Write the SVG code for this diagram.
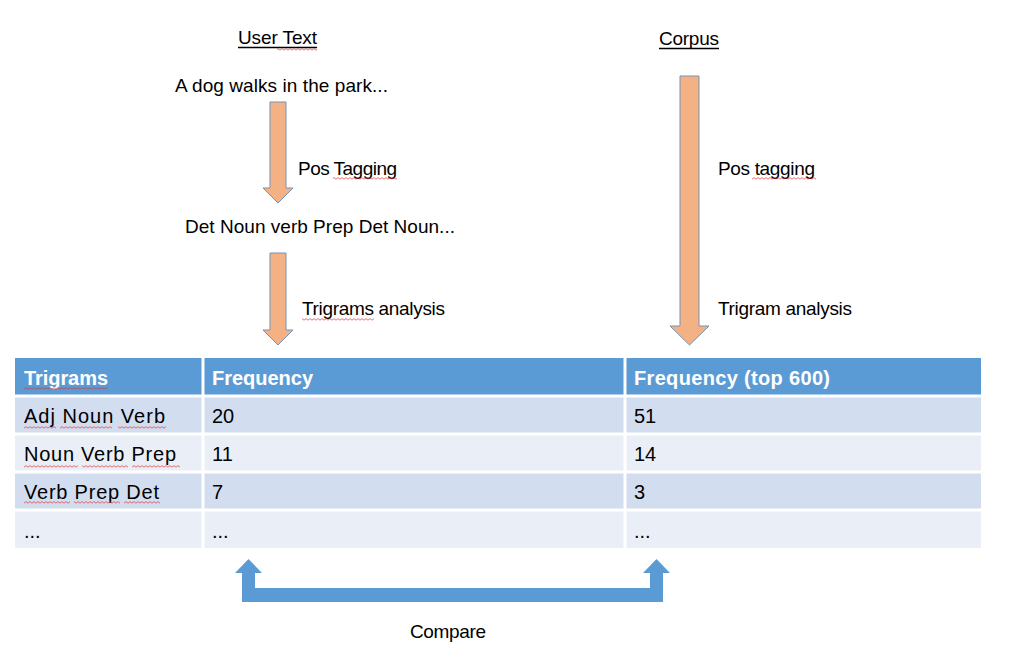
<svg xmlns="http://www.w3.org/2000/svg" width="1024" height="645" viewBox="0 0 1024 645">
<style>
text{font-family:"Liberation Sans",Arial,sans-serif;fill:#000;}
.t19{font-size:19px;}
.t20{font-size:20px;}
.hd{font-size:20px;font-weight:bold;fill:#fff;}
.orange{fill:#F4B183;stroke:#7393BA;stroke-width:1;}
.blue{fill:#5B9BD5;}
.ul{stroke:#000;stroke-width:1.3;}
.sq{fill:url(#squig);}
.grid{stroke:#fff;stroke-width:3;}
</style>
<defs>
<pattern id="squig" width="4" height="3" patternUnits="userSpaceOnUse">
<path d="M0 2.2 L2 0.6 L4 2.2" fill="none" stroke="#E0302F" stroke-width="0.7"/>
</pattern>
</defs>
<rect width="1024" height="645" fill="#fff"/>

<g id="user-text-title">
<text class="t19" x="238" y="44" textLength="79">User Text</text>
<line class="ul" x1="238" y1="47.5" x2="317" y2="47.5"/>
<rect class="sq" x="277" y="48" width="40" height="3"/>
</g>
<g id="sentence">
<text class="t19" x="175" y="92" textLength="213">A dog walks in the park...</text>
</g>
<g id="tags">
<text class="t19" x="185" y="233" textLength="270">Det Noun verb Prep Det Noun...</text>
</g>
<g id="corpus-title">
<text class="t19" x="659" y="45" textLength="60">Corpus</text>
<line class="ul" x1="659" y1="48.5" x2="719" y2="48.5"/>
</g>

<g id="table">
<rect x="15" y="358" width="966" height="38" fill="#5B9BD5"/>
<rect x="15" y="396" width="966" height="38" fill="#D2DEEF"/>
<rect x="15" y="434" width="966" height="38" fill="#EAEFF7"/>
<rect x="15" y="472" width="966" height="38" fill="#D2DEEF"/>
<rect x="15" y="510" width="966" height="38" fill="#EAEFF7"/>
<line class="grid" x1="15" y1="396" x2="981" y2="396"/>
<line class="grid" x1="15" y1="434" x2="981" y2="434"/>
<line class="grid" x1="15" y1="472" x2="981" y2="472"/>
<line class="grid" x1="15" y1="510" x2="981" y2="510"/>
<line class="grid" x1="203" y1="358" x2="203" y2="548"/>
<line class="grid" x1="625" y1="358" x2="625" y2="548"/>
<text class="hd" x="24" y="385" textLength="84">Trigrams</text>
<text class="hd" x="212" y="385" textLength="101">Frequency</text>
<text class="hd" x="634" y="385" textLength="196">Frequency (top 600)</text>
<rect class="sq" x="24" y="387" width="84" height="3"/>
<text class="t20" x="24" y="423" textLength="141">Adj Noun Verb</text>
<text class="t20" x="212" y="423">20</text>
<text class="t20" x="634" y="423">51</text>
<rect class="sq" x="24" y="426" width="32" height="3"/>
<rect class="sq" x="60" y="426" width="52" height="3"/>
<rect class="sq" x="118" y="426" width="48" height="3"/>
<text class="t20" x="24" y="461" textLength="152">Noun Verb Prep</text>
<text class="t20" x="212" y="461">11</text>
<text class="t20" x="634" y="461">14</text>
<rect class="sq" x="24" y="465" width="54" height="3"/>
<rect class="sq" x="82" y="465" width="46" height="3"/>
<rect class="sq" x="132" y="465" width="48" height="3"/>
<text class="t20" x="24" y="499" textLength="135">Verb Prep Det</text>
<text class="t20" x="212" y="499">7</text>
<text class="t20" x="634" y="499">3</text>
<rect class="sq" x="24" y="501" width="46" height="3"/>
<rect class="sq" x="74" y="501" width="46" height="3"/>
<rect class="sq" x="124" y="501" width="36" height="3"/>
<text class="t20" x="24" y="538">...</text>
<text class="t20" x="212" y="538">...</text>
<text class="t20" x="634" y="538">...</text>
</g>

<g id="compare-label">
<text class="t19" x="410" y="638" textLength="76">Compare</text>
</g>

<g id="connectors">
<path class="orange" d="M270,102 H286 V188 H293 L278,203 L263,188 H270 Z"/>
<path class="orange" d="M270,253 H286 V330 H293 L278,345 L263,330 H270 Z"/>
<path class="orange" d="M680,76 H699 V326 H709 L689.5,345 L670,326 H680 Z"/>
<path class="blue" d="M248.5,559 L262,573 H255 V588 H650 V573 H643 L656.5,559 L670,573 H663 V602 H242 V573 H235 Z"/>
<g id="connector-labels">
<text class="t19" x="298" y="175" textLength="99">Pos Tagging</text>
<rect class="sq" x="333" y="177" width="64" height="3"/>
<text class="t19" x="302" y="315" textLength="143">Trigrams analysis</text>
<rect class="sq" x="302" y="318" width="72" height="3"/>
<text class="t19" x="718" y="175" textLength="97">Pos tagging</text>
<rect class="sq" x="752" y="177" width="64" height="3"/>
<text class="t19" x="718" y="315" textLength="134">Trigram analysis</text>
</g>
</g>
</svg>
